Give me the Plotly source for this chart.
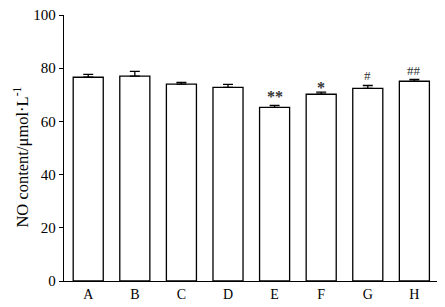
import plotly.graph_objects as go

categories = ["A", "B", "C", "D", "E", "F", "G", "H"]
values = [76.6, 77.0, 74.0, 72.8, 65.3, 70.2, 72.4, 75.1]
errors = [1.1, 1.8, 0.7, 1.1, 0.7, 0.8, 1.1, 0.7]
marks = ["", "", "", "", "**", "*", "#", "##"]
mark_y = [None, None, None, None, 69.3, 72.8, 77.4, 79.3]

font = "Liberation Serif, Times New Roman, serif"

fig = go.Figure()
fig.add_trace(go.Bar(
    x=categories, y=values, width=0.645,
    marker=dict(color="white", line=dict(color="black", width=1.3)),
    error_y=dict(type="data", array=errors, arrayminus=[0]*len(errors), symmetric=False,
                 color="black", thickness=1.3, width=5),
))
for c, m, yv in zip(categories, marks, mark_y):
    if m:
        fig.add_annotation(x=c, y=yv, text=("<b>%s</b>" % m) if "*" in m else m,
                           showarrow=False,
                           font=dict(family=font, size=16 if "*" in m else 13, color="#333"),
                           yanchor="middle")

fig.add_annotation(xref="paper", yref="paper", x=0, y=0.464, xshift=-42,
                   xanchor="center", yanchor="middle", textangle=-90, showarrow=False,
                   text="NO content/μmol·L<sup>-1</sup>",
                   font=dict(family=font, size=16.5, color="black"))

fig.update_layout(
    width=437, height=299,
    margin=dict(l=56, r=5, t=7, b=26, autoexpand=False),
    plot_bgcolor="white", paper_bgcolor="white",
    showlegend=False,
    font=dict(family=font, size=14, color="black"),
    xaxis=dict(range=[-0.52, 7.55], showline=True, linecolor="black", linewidth=1.3,
               ticks="", showgrid=False, tickfont=dict(size=14), automargin=False),
    yaxis=dict(range=[0, 100], tickvals=[0, 20, 40, 60, 80, 100], showline=True,
               linecolor="black", linewidth=1.3, ticks="outside", ticklen=4,
               tickcolor="black", showgrid=False, zeroline=False, automargin=False,
               ticklabeloverflow="allow", tickfont=dict(size=15)),
)
fig.write_html("out.html")
